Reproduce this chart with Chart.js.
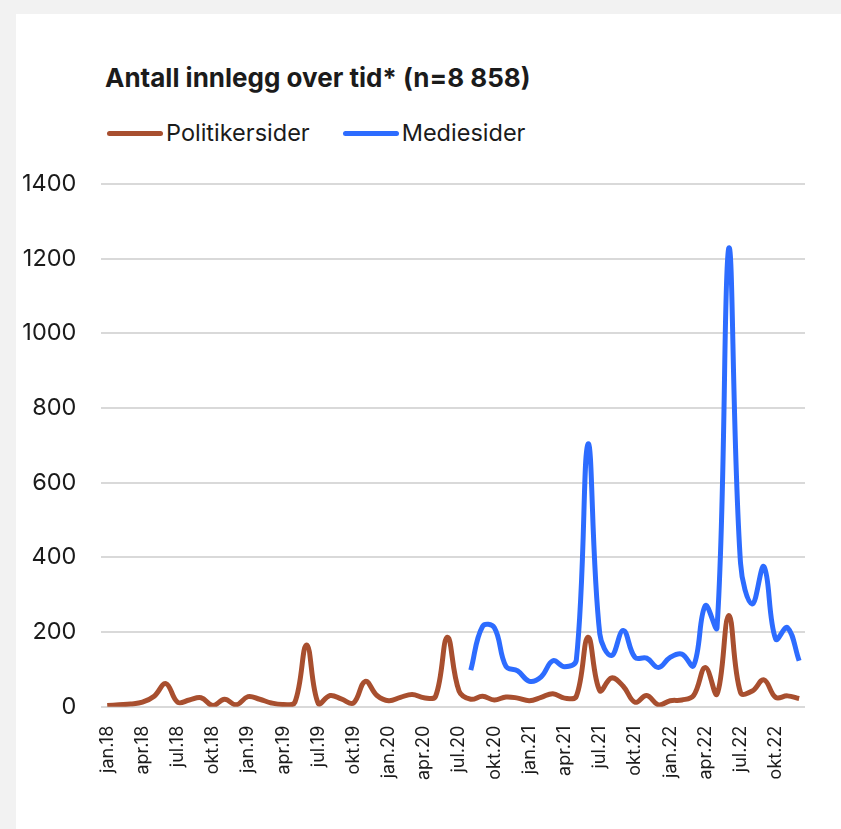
<!DOCTYPE html>
<html>
<head>
<meta charset="utf-8">
<script src="https://cdn.jsdelivr.net/npm/chart.js@4"></script>
<style>
  html, body { margin: 0; padding: 0; }
  body { width: 841px; height: 829px; background: #f2f2f2; position: relative; overflow: hidden; font-family: Inter, sans-serif; color: #1b1b1b; }
  .card { position: absolute; left: 16px; top: 14px; right: 0; bottom: 0; background: #fff; }
  .title { position: absolute; left: 105px; top: 63px; font-size: 26px; font-weight: 700; line-height: 30px; white-space: nowrap; }
  .legend { position: absolute; left: 107px; top: 118px; font-size: 23.5px; line-height: 30px; display: flex; align-items: center; white-space: nowrap; }
  .legend .swatch { display: inline-block; width: 56px; height: 5px; border-radius: 3px; margin-right: 3px; }
  .legend .item { display: flex; align-items: center; margin-right: 33px; }
  .chart-box { position: absolute; left: 0; top: 160px; width: 841px; height: 669px; }
</style>
</head>
<body>
<div class="card"></div>
<div class="title">Antall innlegg over tid* (n=8 858)</div>
<div class="legend" id="legend"></div>
<div class="chart-box"><canvas id="posts-chart"></canvas></div>
<script>
// Monthly post counts, jan.18 - des.22
const months = ['jan', 'feb', 'mar', 'apr', 'mai', 'jun', 'jul', 'aug', 'sep', 'okt', 'nov', 'des'];
const years = ['18', '19', '20', '21', '22'];

const politikersider = [
    3, 5, 7, 12, 28, 62, 12, 18, 24, 3, 20, 5,
    27, 20, 10, 6, 12, 165, 8, 30, 20, 10, 68, 30,
    16, 25, 33, 24, 28, 186, 42, 20, 28, 18, 26, 23,
    16, 25, 35, 23, 28, 186, 43, 77, 55, 12, 30, 5,
    16, 18, 30, 105, 34, 244, 38, 42, 72, 25, 29, 22
];

const mediesider = [
    null, null, null, null, null, null, null, null, null, null, null, null,
    null, null, null, null, null, null, null, null, null, null, null, null,
    null, null, null, null, null, null, null, 98, 215, 212, 108, 96,
    68, 80, 123, 107, 125, 704, 195, 137, 204, 132, 130, 105,
    132, 141, 110, 271, 212, 1228, 385, 275, 375, 181, 212, 123
];

const yTicks = [0, 200, 400, 600, 800, 1000, 1200, 1400];

const seriesNames = ['Politikersider', 'Mediesider'];
const seriesColors = ['#a84f2f', '#2d6cff'];

const labels = [];
years.forEach(y => months.forEach(m => labels.push(m + '.' + y)));

// HTML legend
const legendEl = document.getElementById('legend');
seriesNames.forEach((name, i) => {
    const item = document.createElement('span');
    item.className = 'item';
    item.innerHTML = '<span class="swatch" style="background:' + seriesColors[i] + '"></span>' + name;
    legendEl.appendChild(item);
});

const ctx = document.getElementById('posts-chart').getContext('2d');

new Chart(ctx, {
    type: 'line',
    data: {
        labels: labels,
        datasets: [{
            label: seriesNames[0],
            data: politikersider,
            borderColor: seriesColors[0],
            backgroundColor: seriesColors[0],
            borderWidth: 5,
            tension: 0.4,
            pointRadius: 0,
            fill: false
        }, {
            label: seriesNames[1],
            data: mediesider,
            borderColor: seriesColors[1],
            backgroundColor: seriesColors[1],
            borderWidth: 5,
            tension: 0.4,
            pointRadius: 0,
            fill: false
        }]
    },
    options: {
        responsive: true,
        maintainAspectRatio: false,
        animation: false,
        layout: {
            padding: { left: 22, right: 36, top: 24, bottom: 49 }
        },
        plugins: {
            legend: { display: false },
            title: { display: false },
            tooltip: { enabled: false }
        },
        scales: {
            x: {
                offset: true,
                // tick marks kept invisible, only used as spacing below the axis
                grid: { display: false, drawTicks: true, tickLength: 19 },
                border: { display: false },
                ticks: {
                    autoSkip: false,
                    minRotation: 90,
                    maxRotation: 90,
                    padding: 0,
                    color: '#1b1b1b',
                    font: { family: 'Inter', size: 18 },
                    callback: function (value, index) {
                        return index % 3 === 0 ? this.getLabelForValue(value) : '';
                    }
                }
            },
            y: {
                min: yTicks[0],
                max: yTicks[yTicks.length - 1],
                afterBuildTicks: axis => {
                    axis.ticks = yTicks.map(v => ({ value: v }));
                },
                grid: { color: '#d9d9d9', lineWidth: 2, drawTicks: true, tickLength: 25, tickColor: 'rgba(0,0,0,0)' },
                border: { display: false },
                ticks: {
                    padding: 0,
                    color: '#1b1b1b',
                    font: { family: 'Inter', size: 23.5 },
                    callback: value => String(value)
                }
            }
        }
    }
});
</script>
</body>
</html>
